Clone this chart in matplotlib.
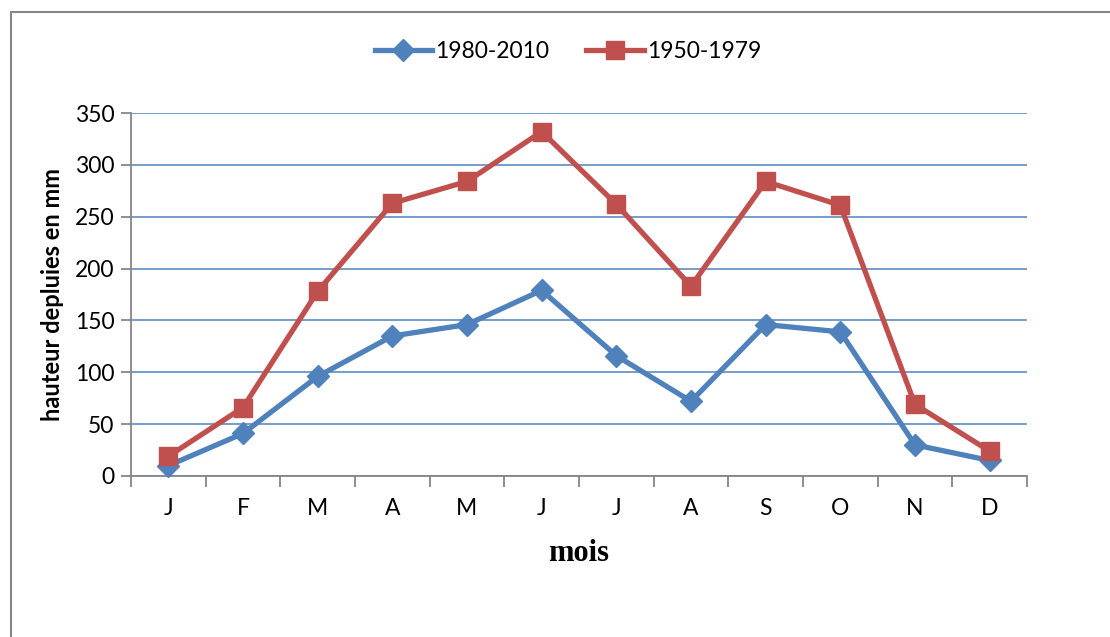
import matplotlib.pyplot as plt
from matplotlib.patches import Rectangle

mois = ['J', 'F', 'M', 'A', 'M', 'J', 'J', 'A', 'S', 'O', 'N', 'D']
p_1980_2010 = [10, 41, 96, 135, 146, 179, 116, 72, 146, 139, 30, 15]
p_1950_1979 = [19, 66, 178, 263, 284, 332, 262, 183, 284, 261, 69, 24]

bleu = '#4F81BD'
rouge = '#C0504D'
gris = '#868686'

plt.rcParams['font.family'] = ['Lato', 'DejaVu Sans']

fig = plt.figure(figsize=(11.10, 6.37), dpi=100)
fig.patches.append(Rectangle((11 / 1110, -0.1), 1.2, 1 - 12 / 637 + 0.1,
                             transform=fig.transFigure, fill=False,
                             edgecolor=gris, linewidth=1.5))

ax = fig.add_axes([131 / 1110, 1 - 476 / 637, (1027 - 131) / 1110, (476 - 113) / 637])
x = list(range(len(mois)))
ax.plot(x, p_1980_2010, color=bleu, lw=3.8, marker='D', ms=11.5,
        label='1980-2010', clip_on=False, zorder=3)
ax.plot(x, p_1950_1979, color=rouge, lw=3.8, marker='s', ms=13,
        label='1950-1979', clip_on=False, zorder=4)

ax.set_xlim(-0.5, 11.5)
ax.set_ylim(0, 350)
ax.set_yticks(range(0, 351, 50))
ax.yaxis.grid(True, color=bleu, lw=1.1)
ax.set_axisbelow(True)

ax.set_xticks([i - 0.5 for i in range(13)])
ax.set_xticklabels([])
ax.set_xticks(x, minor=True)
ax.set_xticklabels(mois, minor=True)
ax.tick_params(axis='x', which='major', length=8, color=gris, width=1.3)
ax.tick_params(axis='x', which='minor', length=0, pad=16, labelsize=16.5)
ax.tick_params(axis='y', length=7, color=gris, width=1.3, labelsize=16.5, pad=5)

for s in ['top', 'right']:
    ax.spines[s].set_visible(False)
for s in ['left', 'bottom']:
    ax.spines[s].set_color(gris)
    ax.spines[s].set_linewidth(1.3)

ax.set_ylabel('hauteur depluies en mm', fontsize=17, fontweight='bold', labelpad=8)
ax.set_xlabel('mois', fontsize=22, fontweight='bold', family='Liberation Serif', labelpad=14)

fig.legend(loc='center', bbox_to_anchor=(568 / 1110, 1 - 52 / 637), ncol=2,
           frameon=False, fontsize=16.5, handlelength=2.5, columnspacing=1.6,
           handletextpad=0.15)

fig.savefig('out.png', dpi=100)
